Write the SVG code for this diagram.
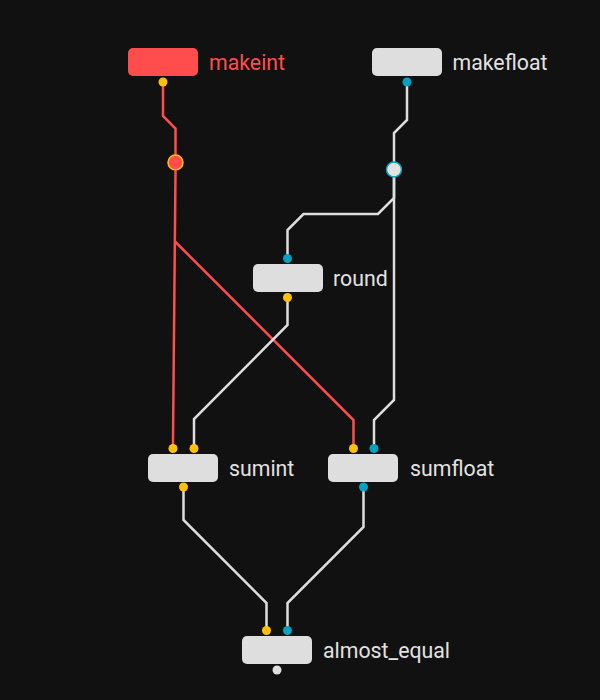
<svg xmlns="http://www.w3.org/2000/svg" width="600" height="700" viewBox="0 0 600 700">
<style>
.node{fill:#dedede}
.lbl{font-family:Roboto,"Liberation Sans",sans-serif;font-size:21.3px;fill:#e2e2e2}
.red{stroke:#ff4d4d;stroke-width:2.5;fill:none}
.wire{stroke:#dedede;stroke-width:2.5;fill:none}
.py{fill:#ffc107}
.pt{fill:#00a3bf}
</style>
<rect width="600" height="700" fill="#111111"/>
<g id="connectors">
<path class="red" d="M163 82 V116 L175.5 128.5 V163"/>
<path class="red" d="M175.5 171 L173 442 V448"/>
<path class="red" d="M175.5 242 L353.5 420 V448"/>
<path class="wire" d="M407 82 V120 L394 133 V162"/>
<path class="wire" d="M394 177 V198 L378 214 H303.5 L287.5 230 V258"/>
<path class="wire" d="M394 177 V400 L374 420 V448"/>
<path class="wire" d="M287.5 298 V325 L194 419 V448"/>
<path class="wire" d="M183.5 487 V520 L266.5 603 V631"/>
<path class="wire" d="M363.5 487 V527 L287.5 603 V631"/>
<circle cx="175.5" cy="162.5" r="7.5" fill="#ff4d4d" stroke="#ffc107" stroke-width="1.5"/>
<circle cx="394" cy="169.5" r="7.5" fill="#e2e2e2" stroke="#00a3bf" stroke-width="1.5"/>
</g>
<g id="makeint">
<rect x="128" y="48" width="70" height="28" rx="5" fill="#ff4d4d"/>
<text x="209" y="69.5" class="lbl" style="fill:#ff4d4d">makeint</text>
<circle cx="163" cy="82" r="4.5" class="py"/>
</g>
<g id="makefloat">
<rect x="372" y="48" width="70" height="28" rx="5" class="node"/>
<text x="452.5" y="69.5" class="lbl">makefloat</text>
<circle cx="407" cy="82" r="4.5" class="pt"/>
</g>
<g id="round">
<rect x="253" y="264" width="70" height="28" rx="5" class="node"/>
<text x="333" y="285.5" class="lbl">round</text>
<circle cx="287.5" cy="258.5" r="4.5" class="pt"/>
<circle cx="287.5" cy="297.5" r="4.5" class="py"/>
</g>
<g id="sumint">
<rect x="148" y="454" width="70" height="28" rx="5" class="node"/>
<text x="229" y="475.5" class="lbl">sumint</text>
<circle cx="173" cy="448.5" r="4.5" class="py"/>
<circle cx="194" cy="448.5" r="4.5" class="py"/>
<circle cx="183.5" cy="487" r="4.5" class="py"/>
</g>
<g id="sumfloat">
<rect x="328" y="454" width="70" height="28" rx="5" class="node"/>
<text x="410" y="475.5" class="lbl">sumfloat</text>
<circle cx="353.5" cy="448.5" r="4.5" class="py"/>
<circle cx="374" cy="448.5" r="4.5" class="pt"/>
<circle cx="363.5" cy="487" r="4.5" class="pt"/>
</g>
<g id="almost_equal">
<rect x="242" y="636" width="70" height="28" rx="5" class="node"/>
<text x="323" y="657.5" class="lbl">almost_equal</text>
<circle cx="266.5" cy="630.5" r="4.5" class="py"/>
<circle cx="287.5" cy="630.5" r="4.5" class="pt"/>
<circle cx="277" cy="670" r="4.5" fill="#dedede"/>
</g>
</svg>
